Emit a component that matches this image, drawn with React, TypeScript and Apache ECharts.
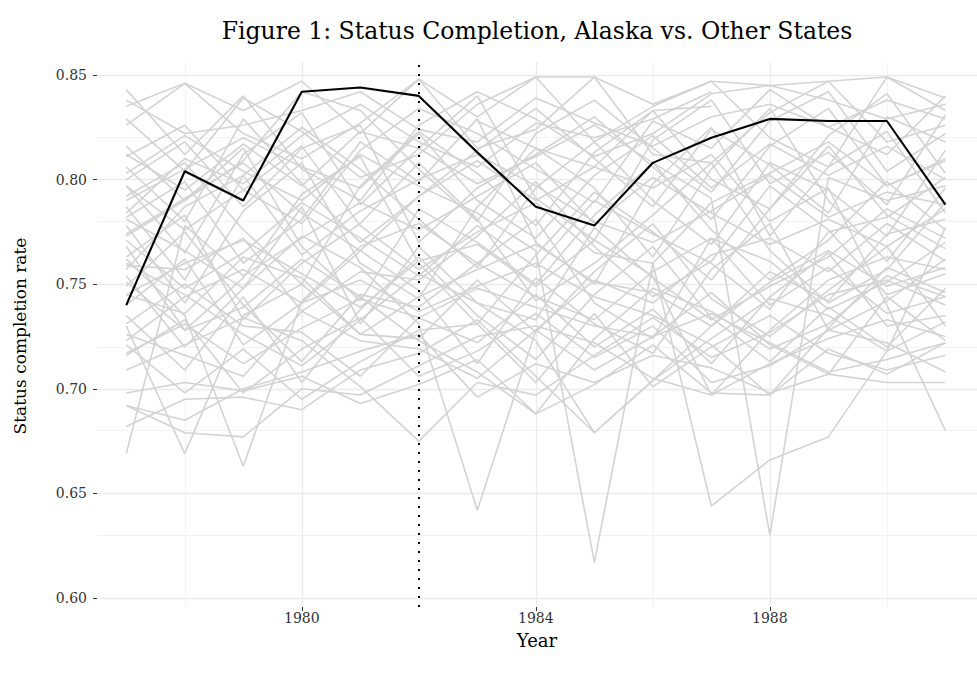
import React, { useEffect, useRef } from "react";
import * as echarts from "echarts";

const years = [1977, 1978, 1979, 1980, 1981, 1982, 1983, 1984, 1985, 1986, 1987, 1988, 1989, 1990, 1991];

const alaska = [0.740, 0.804, 0.790, 0.842, 0.844, 0.840, 0.813, 0.787, 0.778, 0.808, 0.820, 0.829, 0.828, 0.828, 0.788];

type V = number | null;
const otherStates: V[][] = [
  [0.843, 0.812, 0.840, 0.805, 0.790, 0.826, 0.842, 0.829, 0.811, 0.822, 0.841, 0.845, 0.838, 0.829, 0.836],
  [0.835, 0.846, 0.822, 0.810, 0.827, 0.848, 0.815, 0.824, 0.849, 0.812, 0.808, 0.832, 0.847, 0.818, 0.826],
  [0.829, 0.804, 0.839, 0.823, 0.801, 0.812, 0.836, 0.849, 0.818, 0.835, 0.847, 0.820, 0.806, 0.849, 0.833],
  [0.816, 0.790, 0.809, 0.842, 0.833, 0.805, 0.780, 0.822, 0.838, 0.815, 0.794, 0.828, 0.842, 0.804, 0.822],
  [0.811, 0.826, 0.795, 0.779, 0.814, 0.834, 0.822, 0.805, 0.789, 0.828, 0.815, 0.843, 0.825, 0.812, 0.840],
  [0.806, 0.780, 0.829, 0.798, 0.770, 0.792, 0.814, 0.834, 0.810, 0.787, 0.824, 0.807, 0.784, 0.830, 0.818],
  [0.800, 0.818, 0.787, 0.815, 0.826, 0.770, 0.796, 0.812, 0.830, 0.806, 0.781, 0.816, 0.834, 0.797, 0.809],
  [0.797, 0.765, 0.812, 0.832, 0.788, 0.815, 0.840, 0.791, 0.771, 0.819, 0.838, 0.798, 0.813, 0.788, 0.831],
  [0.792, 0.808, 0.776, 0.750, 0.797, 0.823, 0.803, 0.778, 0.813, 0.833, 0.800, 0.786, 0.821, 0.841, 0.803],
  [0.787, 0.752, 0.802, 0.825, 0.805, 0.781, 0.758, 0.796, 0.818, 0.790, 0.769, 0.808, 0.795, 0.773, 0.814],
  [0.782, 0.799, 0.760, 0.781, 0.818, 0.799, 0.829, 0.770, 0.750, 0.798, 0.825, 0.773, 0.806, 0.823, 0.784],
  [0.778, 0.741, 0.785, 0.808, 0.760, 0.743, 0.787, 0.815, 0.796, 0.763, 0.805, 0.834, 0.790, 0.761, 0.796],
  [0.773, 0.790, 0.815, 0.768, 0.742, 0.786, 0.770, 0.750, 0.783, 0.808, 0.776, 0.752, 0.771, 0.799, 0.776],
  [0.768, 0.728, 0.753, 0.793, 0.811, 0.760, 0.731, 0.764, 0.794, 0.775, 0.752, 0.786, 0.816, 0.783, 0.767],
  [0.763, 0.783, 0.733, 0.760, 0.779, 0.808, 0.781, 0.742, 0.760, 0.783, 0.808, 0.766, 0.741, 0.757, 0.789],
  [0.759, 0.757, 0.772, 0.737, 0.756, 0.752, 0.773, 0.799, 0.768, 0.744, 0.761, 0.797, 0.776, 0.745, 0.755],
  [0.754, 0.720, 0.748, 0.787, 0.731, 0.768, 0.741, 0.733, 0.777, 0.753, 0.733, 0.749, 0.763, 0.786, 0.772],
  [0.749, 0.775, 0.740, 0.713, 0.745, 0.739, 0.760, 0.781, 0.741, 0.724, 0.772, 0.740, 0.758, 0.736, 0.744],
  [0.745, 0.736, 0.763, 0.753, 0.726, 0.724, 0.752, 0.727, 0.756, 0.779, 0.743, 0.725, 0.747, 0.768, 0.730],
  [0.740, 0.762, 0.721, 0.741, 0.766, 0.747, 0.712, 0.753, 0.731, 0.717, 0.757, 0.779, 0.728, 0.742, 0.762],
  [0.735, 0.709, 0.744, 0.703, 0.738, 0.763, 0.735, 0.714, 0.745, 0.768, 0.734, 0.713, 0.739, 0.720, 0.748],
  [0.731, 0.750, 0.730, 0.727, 0.706, 0.734, 0.722, 0.745, 0.720, 0.738, 0.712, 0.744, 0.765, 0.730, 0.735],
  [0.726, 0.716, 0.706, 0.737, 0.723, 0.719, 0.705, 0.728, 0.709, 0.725, 0.746, 0.721, 0.707, 0.744, 0.723],
  [0.721, 0.698, 0.719, 0.695, 0.713, 0.728, 0.731, 0.703, 0.736, 0.701, 0.720, 0.735, 0.717, 0.709, 0.716],
  [0.716, 0.733, 0.698, 0.719, 0.734, 0.706, 0.718, 0.736, 0.715, 0.730, 0.703, 0.711, 0.728, 0.722, 0.708],
  [0.781, 0.766, 0.748, 0.773, 0.758, 0.731, 0.642, 0.728, 0.752, 0.741, 0.764, 0.772, 0.756, 0.779, 0.761],
  [0.803, 0.821, 0.804, 0.790, 0.812, 0.797, 0.784, 0.766, 0.617, 0.760, 0.789, 0.803, 0.818, 0.797, 0.810],
  [0.762, 0.735, 0.663, 0.742, 0.768, 0.779, 0.760, 0.744, 0.733, 0.756, 0.772, 0.761, 0.738, 0.751, 0.770],
  [0.669, 0.778, 0.754, 0.772, 0.789, 0.776, 0.792, 0.808, 0.779, 0.801, 0.784, 0.769, 0.781, 0.768, 0.786],
  [0.730, 0.669, 0.735, 0.750, 0.726, 0.744, 0.757, 0.769, 0.751, 0.746, 0.730, 0.756, 0.742, 0.774, 0.781],
  [0.709, 0.721, 0.734, 0.723, 0.701, 0.675, 0.703, 0.697, 0.716, 0.734, 0.715, 0.727, 0.745, 0.752, 0.740],
  [0.797, 0.776, 0.795, 0.816, 0.778, 0.757, 0.775, 0.789, 0.765, 0.760, 0.644, 0.666, 0.677, 0.718, 0.777],
  [0.812, 0.795, 0.817, 0.797, 0.823, 0.815, 0.798, 0.811, 0.826, 0.808, 0.791, 0.630, 0.801, 0.790, 0.797],
  [0.774, 0.791, 0.808, 0.784, 0.766, 0.792, 0.809, 0.790, 0.806, 0.796, 0.812, 0.780, 0.796, 0.740, 0.680],
  [0.692, 0.685, 0.700, 0.708, 0.718, 0.726, 0.696, 0.712, 0.703, 0.716, 0.710, 0.698, 0.707, 0.703, 0.703],
  [0.692, 0.679, 0.677, 0.700, 0.697, 0.711, 0.725, 0.730, 0.722, 0.705, 0.697, 0.712, 0.724, 0.733, 0.725],
  [0.682, 0.695, 0.696, 0.690, 0.709, 0.717, 0.733, 0.706, 0.679, 0.704, 0.724, 0.743, 0.735, 0.718, 0.732],
  [0.698, 0.703, 0.699, 0.706, 0.693, 0.702, 0.714, 0.688, 0.702, 0.721, 0.698, 0.697, 0.719, 0.707, 0.722],
  [0.826, 0.846, 0.833, 0.847, 0.822, 0.848, 0.830, 0.849, 0.849, 0.836, 0.847, 0.845, 0.847, 0.849, 0.839],
  [0.784, 0.810, 0.798, 0.821, 0.836, 0.818, 0.806, 0.827, 0.820, 0.829, 0.842, null, null, null, null],
  [null, null, null, null, null, null, 0.828, 0.815, 0.806, 0.833, 0.835, null, null, null, null],
  [0.751, 0.728, 0.739, 0.762, 0.744, 0.723, 0.708, 0.688, 0.724, 0.748, 0.737, 0.719, 0.731, 0.754, 0.744],
  [0.760, 0.745, 0.726, 0.711, 0.733, 0.755, 0.741, 0.723, 0.679, 0.704, 0.730, 0.751, 0.766, 0.749, 0.758],
  [0.723, 0.744, 0.757, 0.741, 0.752, 0.737, 0.749, 0.760, 0.744, 0.735, 0.721, 0.697, 0.729, 0.758, 0.746],
  [0.745, 0.760, 0.771, 0.755, 0.739, 0.761, 0.769, 0.749, 0.771, 0.754, 0.697, 0.728, 0.752, 0.763, 0.757],
  [0.717, 0.731, 0.712, 0.729, 0.743, 0.734, 0.748, 0.739, 0.730, 0.725, 0.736, 0.722, 0.708, 0.714, 0.722],
  [0.838, 0.822, 0.826, 0.833, 0.842, 0.824, 0.818, 0.839, 0.827, 0.816, 0.830, 0.836, 0.825, 0.838, 0.829],
  [0.790, 0.805, 0.820, 0.806, 0.796, 0.822, 0.790, 0.772, 0.802, 0.821, 0.796, 0.817, 0.802, 0.816, 0.800],
  [0.757, 0.787, 0.802, 0.764, 0.785, 0.800, 0.812, 0.797, 0.780, 0.770, 0.785, 0.802, 0.782, 0.794, 0.788],
  [0.771, 0.748, 0.765, 0.789, 0.772, 0.754, 0.778, 0.758, 0.790, 0.774, 0.760, 0.738, 0.775, 0.782, 0.801],
];

const yTickLabels = [0.6, 0.65, 0.7, 0.75, 0.8, 0.85];
const yMinorGrid = [0.625, 0.675, 0.725, 0.775, 0.825];
const xTickLabels = [1980, 1984, 1988];
const xMinorGrid = [1978, 1982, 1986, 1990];
const policyYear = 1982;

const titleText = "Figure 1: Status Completion, Alaska vs. Other States";
const FONT = "DejaVu Serif";

export default function App() {
  const ref = useRef<HTMLDivElement>(null);
  useEffect(() => {
    if (!ref.current) return;
    const chart = echarts.init(ref.current, undefined, { renderer: "svg" });
    const grayLines = otherStates.map((arr, i) => ({
      type: "line",
      name: "state" + i,
      data: arr.map((v, j) => [years[j], v]),
      showSymbol: false,
      symbol: "none",
      silent: true,
      z: 2,
      lineStyle: { color: "#d3d3d3", width: 1.6 },
    }));
    const option: any = {
      animation: false,
      grid: { left: 97, right: 0, top: 62, bottom: 70, containLabel: false },
      xAxis: {
        type: "value",
        min: 1976.5,
        max: 1991.54,
        splitLine: { show: false },
        axisLine: { show: false },
        axisTick: { show: true, customValues: xTickLabels, length: 4, lineStyle: { color: "#333", width: 1 } },
        axisLabel: {
          customValues: xTickLabels,
          formatter: (v: number) => String(v),
          fontFamily: FONT,
          fontSize: 14,
          color: "#333",
          margin: 4,
        },
      },
      yAxis: {
        type: "value",
        min: 0.5957,
        max: 0.8562,
        splitLine: { show: false },
        axisLine: { show: false },
        axisTick: { show: true, customValues: yTickLabels, length: 4, lineStyle: { color: "#333", width: 1 } },
        axisLabel: {
          customValues: yTickLabels,
          formatter: (v: number) => v.toFixed(2),
          fontFamily: FONT,
          fontSize: 14,
          color: "#333",
          margin: 10,
        },
      },
      graphic: [
        {
          type: "text",
          x: 537,
          y: 31,
          style: { text: titleText, fontFamily: FONT, fontSize: 23.5, fill: "#000", textAlign: "center", textVerticalAlign: "middle" },
        },
        {
          type: "text",
          x: 537,
          y: 640,
          style: { text: "Year", fontFamily: FONT, fontSize: 18, fill: "#000", textAlign: "center", textVerticalAlign: "middle" },
        },
        {
          type: "text",
          x: 20,
          y: 336,
          rotation: Math.PI / 2,
          style: { text: "Status completion rate", fontFamily: FONT, fontSize: 17, fill: "#000", textAlign: "center", textVerticalAlign: "middle" },
        },
      ],
      series: [
        {
          type: "line",
          name: "grid",
          data: [],
          silent: true,
          markLine: {
            z: 1,
            silent: true,
            symbol: ["none", "none"],
            label: { show: false },
            emphasis: { disabled: true },
            data: [
              ...yTickLabels.map((v) => ({ yAxis: v, lineStyle: { color: "#ebebeb", width: 1.4, type: "solid" } })),
              ...yMinorGrid.map((v) => ({ yAxis: v, lineStyle: { color: "#f0f0f0", width: 0.8, type: "solid" } })),
              ...xTickLabels.map((v) => ({ xAxis: v, lineStyle: { color: "#ebebeb", width: 1.4, type: "solid" } })),
              ...xMinorGrid.map((v) => ({ xAxis: v, lineStyle: { color: "#f0f0f0", width: 0.8, type: "solid" } })),
            ],
          },
        },
        ...grayLines,
        {
          type: "line",
          name: "Alaska",
          data: alaska.map((v, j) => [years[j], v]),
          showSymbol: false,
          symbol: "none",
          silent: true,
          z: 3,
          lineStyle: { color: "#000", width: 2.1 },
          markLine: {
            z: 10,
            silent: true,
            symbol: ["none", "none"],
            label: { show: false },
            data: [{ xAxis: policyYear, lineStyle: { color: "#000", width: 2, type: [2, 7] } }],
          },
        },
      ],
    };
    chart.setOption(option);
    return () => chart.dispose();
  }, []);
  return (
    <div
      ref={ref}
      style={{ position: "fixed", left: 0, top: 0, width: 977, height: 677, background: "#fff" }}
    />
  );
}
